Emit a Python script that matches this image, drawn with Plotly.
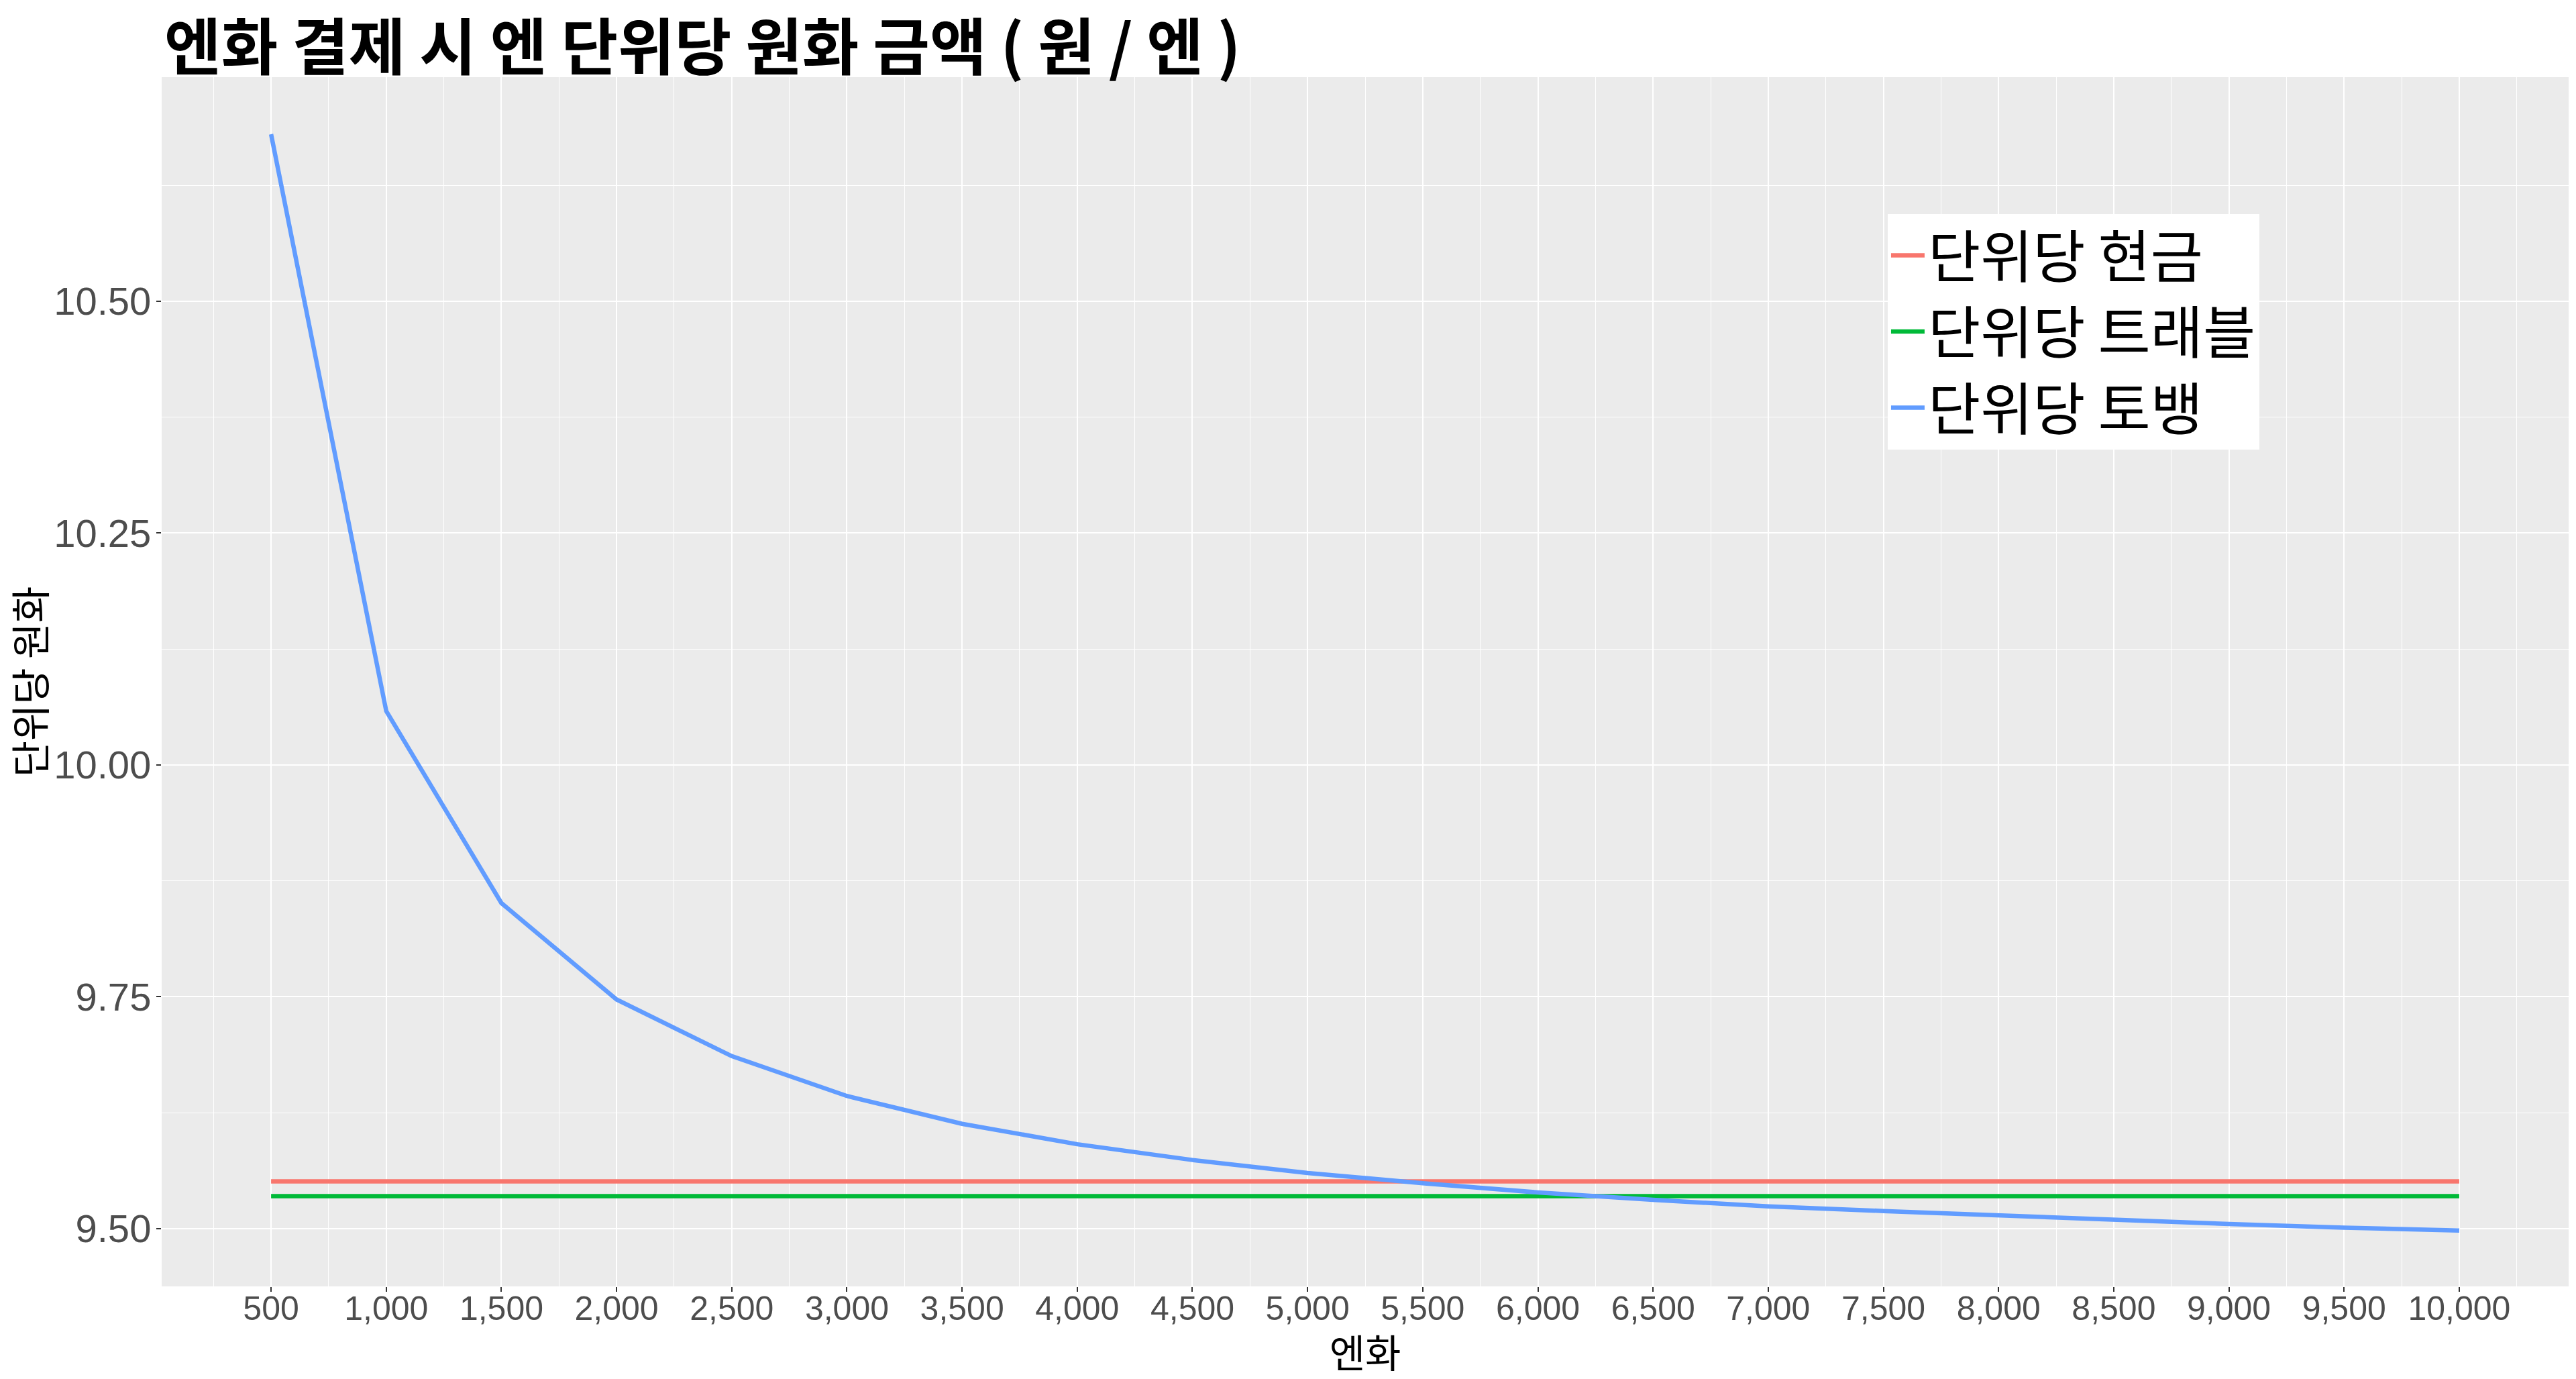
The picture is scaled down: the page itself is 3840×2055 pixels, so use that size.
import plotly.graph_objects as go

# ---- data ----
yen = [500, 1000, 1500, 2000, 2500, 3000, 3500, 4000, 4500, 5000,
       5500, 6000, 6500, 7000, 7500, 8000, 8500, 9000, 9500, 10000]
cash = [9.551, 9.551, 9.551, 9.551, 9.551, 9.551, 9.551, 9.551, 9.551, 9.551,
        9.552, 9.552, 9.552, 9.552, 9.551, 9.551, 9.551, 9.551, 9.551, 9.551]
travel = [9.535, 9.535, 9.535, 9.5355, 9.5355, 9.535, 9.535, 9.535, 9.535, 9.535,
          9.535, 9.535, 9.535, 9.535, 9.535, 9.535, 9.535, 9.535, 9.535, 9.535]
toss = [10.680, 10.058, 9.851, 9.747, 9.686, 9.643, 9.613, 9.591, 9.574, 9.560,
        9.549, 9.539, 9.531, 9.524, 9.519, 9.514, 9.509, 9.505, 9.501, 9.498]
series_names = ["단위당 현금", "단위당 트래블", "단위당 토뱅"]
series_colors = ["#F8766D", "#00BA38", "#619CFF"]
x_ticks = yen
x_ticktext = [f"{v:,}" for v in yen]
y_ticks = [9.50, 9.75, 10.00, 10.25, 10.50]
y_ticktext = ["9.50", "9.75", "10.00", "10.25", "10.50"]
title_text = "엔화 결제 시 엔 단위당 원화 금액 ( 원 / 엔 )"
x_title = "엔화"
y_title = "단위당 원화"

W, H = 3840, 2055
KFONT = "Noto Sans CJK KR"
NFONT = "Liberation Sans, Arial"

fig = go.Figure()
for name, vals, col in zip(series_names, [cash, travel, toss], series_colors):
    fig.add_trace(go.Scatter(x=yen, y=vals, mode="lines", name=name,
                             line=dict(color=col, width=6.5)))

fig.update_layout(
    width=W, height=H,
    margin=dict(l=241, r=11, t=115, b=138),
    paper_bgcolor="white",
    plot_bgcolor="#EBEBEB",
    title=dict(text="<b>" + title_text + "</b>", x=245 / W, xanchor="left",
               xref="container", yref="container", y=1 - 72 / H, yanchor="middle",
               font=dict(family=KFONT, size=92, color="black")),
    legend=dict(x=0.7171, y=0.887, xanchor="left", yanchor="top",
                bgcolor="white", borderwidth=0,
                font=dict(family=KFONT, size=85, color="black"),
                itemwidth=50, tracegroupgap=0),
    showlegend=True,
)

fig.update_xaxes(
    range=[25, 10475],
    tickmode="array", tickvals=x_ticks, ticktext=x_ticktext,
    showgrid=True, gridcolor="white", gridwidth=2.4,
    minor=dict(tickmode="linear", tick0=250, dtick=500, showgrid=True,
               gridcolor="white", gridwidth=1.2, ticks=""),
    ticks="outside", ticklen=7, tickwidth=2, tickcolor="#333333",
    ticklabelstandoff=-18,
    tickfont=dict(family=NFONT, size=50, color="#4D4D4D"),
    zeroline=False, showline=False,
    title=dict(text=x_title, font=dict(family=KFONT, size=58, color="black"), standoff=6),
)
fig.update_yaxes(
    range=[9.4377, 10.7415],
    tickmode="array", tickvals=y_ticks, ticktext=y_ticktext,
    showgrid=True, gridcolor="white", gridwidth=2.4,
    minor=dict(tickmode="linear", tick0=9.625, dtick=0.25, showgrid=True,
               gridcolor="white", gridwidth=1.2, ticks=""),
    ticks="outside", ticklen=7, tickwidth=2, tickcolor="#333333",
    ticklabelstandoff=-4,
    tickfont=dict(family=NFONT, size=58, color="#4D4D4D"),
    zeroline=False, showline=False,
    title=dict(text=y_title, font=dict(family=KFONT, size=59, color="black"), standoff=10),
)

fig.write_html("out.html")
